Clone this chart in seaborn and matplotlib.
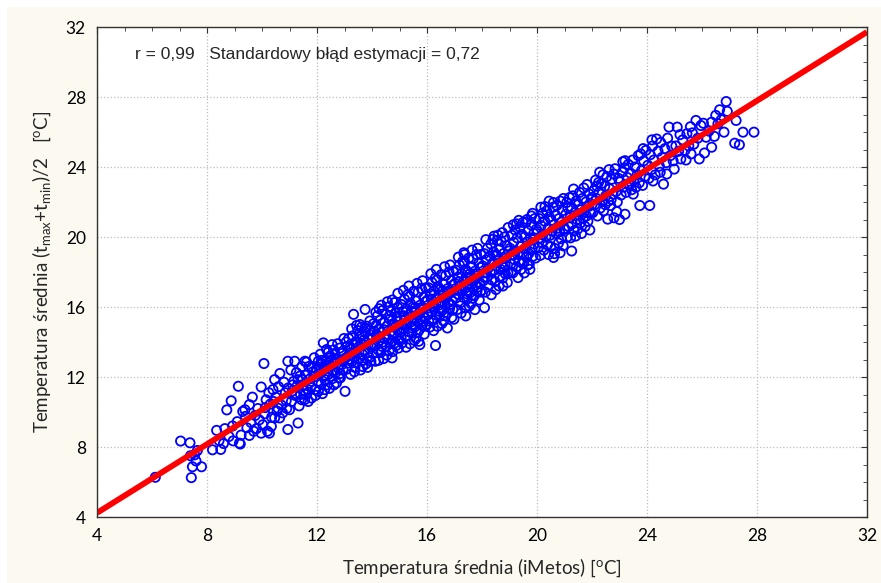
"""
Scatter: mean daily temperature (t_max + t_min)/2 vs iMetos mean, with regression line.
"""
import numpy as np
import pandas as pd
import matplotlib
matplotlib.use('Agg')
import matplotlib.pyplot as plt
import seaborn as sns
from matplotlib.patches import Rectangle
from matplotlib.ticker import MultipleLocator

# --- Data (grouped by iMetos temperature) ---
pts_06_10 = [
    (6.12, 6.27), (7.04, 8.34), (7.38, 8.24), (7.40, 7.50), (7.65, 7.80), (7.60, 7.20),
    (7.47, 6.87), (7.80, 6.87), (7.43, 6.25), (7.55, 7.55),
    (8.20, 7.84), (8.50, 7.86), (8.44, 8.37), (8.72, 10.12), (8.88, 10.64), (8.93, 9.20),
    (8.65, 9.05), (8.80, 8.60), (8.35, 8.95), (8.95, 8.35), (8.60, 8.20),
    (9.14, 11.47), (9.21, 8.17), (9.24, 8.68), (9.54, 8.66), (9.38, 10.13), (9.30, 10.03),
    (9.54, 10.42), (9.18, 8.22), (9.60, 9.40), (9.75, 9.80), (9.45, 9.10), (9.97, 11.43),
    (9.97, 8.79), (9.85, 10.20), (9.65, 10.85), (9.90, 9.55), (9.40, 9.75), (9.80, 9.05),
    (9.10, 9.45), (9.70, 8.90),
]
pts_10_12 = [
    (10.07, 12.77), (10.03, 9.27), (10.27, 8.79), (10.34, 9.18), (10.46, 9.66), (10.64, 9.66),
    (10.58, 10.22), (10.46, 11.85), (10.40, 11.28), (10.20, 8.90), (10.10, 9.90), (10.30, 10.45),
    (10.15, 10.70), (10.50, 10.85), (10.70, 10.40), (10.85, 11.10), (10.94, 12.90), (10.95, 11.37),
    (10.60, 11.45), (10.75, 9.95), (10.90, 10.20), (10.25, 11.10), (10.55, 10.05), (10.80, 11.70),
    (10.35, 9.70), (10.65, 12.20), (10.94, 9.00), (10.88, 10.65), (10.12, 10.25), (10.42, 10.60),
    (11.19, 12.90), (11.31, 11.85), (11.31, 9.37), (11.55, 10.70), (11.44, 10.70), (11.07, 10.60),
    (11.00, 10.13), (11.80, 10.80), (11.56, 12.90), (11.92, 11.28), (11.10, 11.20), (11.15, 11.75),
    (11.25, 12.25), (11.35, 10.35), (11.40, 11.00), (11.50, 11.55), (11.60, 12.10), (11.65, 11.30),
    (11.70, 12.60), (11.75, 11.90), (11.85, 12.30), (11.90, 13.10), (11.05, 12.40), (11.20, 10.95),
    (11.28, 11.50), (11.45, 12.60), (11.58, 11.00), (11.68, 10.60), (11.78, 11.45), (11.88, 12.00),
    (11.95, 10.95), (11.12, 11.55), (11.38, 12.05), (11.52, 11.25), (11.62, 12.85), (11.72, 11.65),
    (11.82, 12.55), (11.48, 11.85), (11.98, 12.45), (11.22, 11.05),
]
pts_12_14 = [
    (12.05, 12.90), (12.23, 13.95), (12.35, 13.57), (12.29, 11.85), (12.28, 11.28), (12.05, 11.18),
    (12.71, 11.66), (12.10, 12.20), (12.15, 11.60), (12.18, 12.75), (12.25, 12.40), (12.32, 12.95),
    (12.38, 11.55), (12.42, 12.15), (12.48, 13.20), (12.52, 12.60), (12.55, 11.90), (12.60, 13.55),
    (12.65, 12.85), (12.68, 12.25), (12.72, 13.05), (12.78, 12.50), (12.82, 13.65), (12.85, 11.95),
    (12.88, 12.95), (12.92, 13.35), (12.95, 12.40), (12.98, 14.20), (12.02, 11.75), (12.12, 13.30),
    (12.20, 11.05), (12.30, 12.10), (12.40, 13.40), (12.45, 11.35), (12.50, 12.95), (12.58, 12.30),
    (12.62, 11.55), (12.70, 12.95), (12.75, 13.90), (12.80, 11.95), (12.90, 12.70), (12.96, 13.00),
    (12.08, 12.55), (12.35, 12.65), (12.55, 13.85), (12.85, 12.20), (12.44, 12.80), (12.66, 13.30),
    (12.16, 12.95),
    (13.02, 11.18), (13.33, 15.58), (13.75, 15.86), (13.05, 13.10), (13.08, 12.45), (13.10, 13.75),
    (13.12, 12.80), (13.15, 14.20), (13.18, 13.35), (13.22, 12.15), (13.25, 13.60), (13.28, 12.90),
    (13.30, 14.35), (13.35, 13.15), (13.38, 12.55), (13.40, 14.00), (13.42, 13.45), (13.45, 12.85),
    (13.48, 14.65), (13.50, 13.70), (13.52, 13.05), (13.55, 14.30), (13.58, 12.40), (13.60, 13.90),
    (13.62, 14.85), (13.65, 13.30), (13.68, 12.95), (13.70, 14.10), (13.72, 13.55), (13.75, 14.55),
    (13.78, 12.75), (13.80, 13.95), (13.82, 14.90), (13.85, 13.40), (13.88, 14.25), (13.90, 13.10),
    (13.92, 15.20), (13.95, 14.40), (13.98, 13.70), (13.06, 14.00), (13.14, 13.00), (13.26, 14.75),
    (13.36, 12.30), (13.46, 13.95), (13.56, 15.00), (13.66, 12.60), (13.76, 14.80), (13.86, 13.85),
    (13.96, 12.90), (13.20, 13.70), (13.44, 14.95), (13.64, 14.45), (13.84, 12.55), (13.94, 14.65),
    (13.32, 13.85),
]
pts_14_16 = [
    (14.73, 13.09), (14.94, 16.78), (14.02, 14.20), (14.04, 13.35), (14.06, 15.05), (14.08, 14.60),
    (14.10, 13.80), (14.12, 12.90), (14.15, 14.95), (14.18, 14.30), (14.20, 15.50), (14.22, 13.55),
    (14.25, 14.75), (14.28, 14.10), (14.30, 15.25), (14.32, 13.40), (14.35, 14.55), (14.38, 15.80),
    (14.40, 14.00), (14.42, 13.05), (14.45, 15.10), (14.48, 14.35), (14.50, 15.60), (14.52, 13.75),
    (14.55, 14.90), (14.58, 14.20), (14.60, 16.00), (14.62, 13.50), (14.65, 15.30), (14.68, 14.60),
    (14.70, 15.75), (14.72, 14.05), (14.75, 13.45), (14.78, 15.05), (14.80, 14.40), (14.82, 16.25),
    (14.85, 14.85), (14.88, 13.80), (14.90, 15.45), (14.92, 14.70), (14.95, 15.95), (14.98, 14.15),
    (14.14, 15.70), (14.24, 12.95), (14.34, 16.10), (14.44, 14.70), (14.54, 13.25), (14.64, 15.50),
    (14.74, 16.40), (14.84, 13.95), (14.94, 15.20), (14.16, 14.40), (14.36, 13.75), (14.56, 16.30),
    (14.76, 14.95), (14.96, 13.65), (14.26, 15.90), (14.46, 14.20), (14.66, 13.90), (14.86, 15.65),
    (15.70, 14.04), (15.02, 15.40), (15.04, 14.55), (15.06, 16.15), (15.08, 15.00), (15.10, 13.95),
    (15.12, 15.75), (15.15, 14.75), (15.18, 16.45), (15.20, 15.25), (15.22, 14.30), (15.25, 15.90),
    (15.28, 15.05), (15.30, 16.70), (15.32, 14.60), (15.35, 15.55), (15.38, 13.90), (15.40, 16.20),
    (15.42, 15.15), (15.45, 14.50), (15.48, 16.00), (15.50, 15.40), (15.52, 16.90), (15.55, 14.85),
    (15.58, 15.70), (15.60, 14.20), (15.62, 16.35), (15.65, 15.20), (15.68, 16.85), (15.70, 15.55),
    (15.72, 14.70), (15.75, 16.10), (15.78, 15.30), (15.80, 17.05), (15.82, 14.95), (15.85, 15.85),
    (15.88, 16.55), (15.90, 14.45), (15.92, 15.40), (15.95, 16.30), (15.98, 15.00), (15.14, 16.95),
    (15.24, 13.70), (15.34, 17.20), (15.44, 15.75), (15.54, 14.10), (15.64, 17.35), (15.74, 13.85),
    (15.84, 17.50), (15.94, 14.90), (15.16, 15.50), (15.36, 16.60), (15.56, 15.95), (15.76, 15.95),
    (15.96, 17.10), (15.26, 14.95), (15.46, 14.80), (15.66, 14.55), (15.86, 15.20), (15.06, 14.25),
]
pts_16_18 = [
    (16.31, 13.80), (16.02, 16.40), (16.04, 15.55), (16.06, 17.10), (16.08, 15.95), (16.10, 14.85),
    (16.12, 16.75), (16.15, 15.70), (16.18, 17.40), (16.20, 16.20), (16.22, 15.25), (16.25, 16.90),
    (16.28, 16.00), (16.30, 17.65), (16.32, 15.55), (16.35, 16.50), (16.38, 14.90), (16.40, 17.15),
    (16.42, 16.10), (16.45, 15.45), (16.48, 17.00), (16.50, 16.35), (16.52, 17.85), (16.55, 15.80),
    (16.58, 16.65), (16.60, 15.20), (16.62, 17.30), (16.65, 16.15), (16.68, 17.80), (16.70, 16.50),
    (16.72, 15.65), (16.75, 17.05), (16.78, 16.25), (16.80, 18.00), (16.82, 15.90), (16.85, 16.80),
    (16.88, 17.50), (16.90, 15.40), (16.92, 16.35), (16.95, 17.25), (16.98, 15.30), (16.14, 17.90),
    (16.24, 14.65), (16.34, 18.15), (16.44, 16.70), (16.54, 15.05), (16.64, 18.30), (16.74, 14.80),
    (16.84, 18.40), (16.94, 15.85), (16.16, 16.45), (16.36, 17.55), (16.56, 16.90), (16.76, 16.90),
    (16.96, 18.05), (16.26, 15.90), (16.46, 15.75), (16.66, 15.50), (16.86, 16.15), (16.06, 15.20),
    (17.41, 15.49), (17.37, 19.00), (17.02, 17.35), (17.04, 16.50), (17.06, 18.10), (17.08, 16.95),
    (17.10, 15.85), (17.12, 17.70), (17.15, 16.70), (17.18, 18.40), (17.20, 17.20), (17.22, 16.25),
    (17.25, 17.90), (17.28, 17.00), (17.30, 18.60), (17.32, 16.55), (17.35, 17.50), (17.38, 15.95),
    (17.40, 18.15), (17.42, 17.10), (17.45, 16.45), (17.48, 18.00), (17.50, 17.35), (17.52, 18.80),
    (17.55, 16.80), (17.58, 17.65), (17.60, 16.20), (17.62, 18.30), (17.65, 17.15), (17.68, 18.75),
    (17.70, 17.50), (17.72, 16.65), (17.75, 18.05), (17.78, 17.25), (17.80, 19.00), (17.82, 16.90),
    (17.85, 17.80), (17.88, 18.50), (17.90, 16.40), (17.92, 17.35), (17.95, 18.25), (17.98, 16.95),
    (17.14, 18.85), (17.24, 15.65), (17.34, 19.10), (17.44, 17.70), (17.54, 16.05), (17.64, 19.25),
    (17.74, 15.85), (17.84, 19.35), (17.94, 16.85), (17.16, 17.45), (17.36, 18.55), (17.56, 17.90),
    (17.76, 17.90), (17.96, 19.00), (17.26, 16.90), (17.46, 16.75), (17.66, 16.50), (17.86, 17.15),
]
pts_18_20 = [
    (18.09, 15.96), (18.09, 17.68), (18.51, 17.00), (18.76, 17.20), (18.58, 20.10), (18.40, 19.87),
    (18.95, 20.54), (18.02, 18.35), (18.05, 17.50), (18.08, 19.05), (18.10, 17.95), (18.12, 16.85),
    (18.15, 18.70), (18.18, 17.70), (18.20, 19.35), (18.22, 18.20), (18.25, 17.25), (18.28, 18.90),
    (18.30, 18.00), (18.32, 19.60), (18.35, 17.55), (18.38, 18.50), (18.42, 19.15), (18.45, 18.10),
    (18.48, 17.45), (18.50, 19.00), (18.52, 18.35), (18.55, 19.80), (18.60, 18.65), (18.62, 17.20),
    (18.65, 19.30), (18.68, 18.15), (18.70, 19.75), (18.72, 18.50), (18.75, 17.65), (18.78, 19.05),
    (18.80, 18.25), (18.82, 20.00), (18.85, 17.90), (18.88, 18.80), (18.90, 19.50), (18.92, 17.40),
    (18.98, 19.20), (18.14, 19.85), (18.34, 16.70), (18.44, 20.05), (18.54, 18.95), (18.64, 17.75),
    (18.74, 20.25), (18.84, 18.40), (18.94, 17.95),
    (19.31, 17.68), (19.74, 18.15), (19.49, 20.83), (19.80, 21.20), (19.02, 19.35), (19.05, 18.45),
    (19.08, 20.10), (19.10, 19.00), (19.12, 17.95), (19.15, 19.70), (19.18, 18.70), (19.20, 20.40),
    (19.22, 19.20), (19.25, 18.30), (19.28, 19.95), (19.30, 19.00), (19.35, 18.60), (19.38, 20.55),
    (19.40, 19.45), (19.42, 18.15), (19.45, 20.15), (19.48, 19.10), (19.52, 18.55), (19.55, 20.00),
    (19.58, 19.35), (19.60, 20.85), (19.62, 18.85), (19.65, 19.70), (19.68, 20.35), (19.70, 19.05),
    (19.72, 18.45), (19.76, 19.95), (19.78, 20.70), (19.82, 19.30), (19.85, 18.90), (19.88, 20.20),
    (19.90, 19.60), (19.92, 21.05), (19.95, 18.80), (19.98, 20.45), (19.14, 20.70), (19.34, 20.95),
    (19.54, 17.95), (19.64, 21.00), (19.84, 21.35), (19.06, 18.00), (19.26, 20.75), (19.46, 18.50),
    (19.66, 18.40), (19.86, 19.85),
]
pts_20_22 = [
    (20.29, 21.74), (20.60, 21.97), (20.60, 18.83), (20.02, 20.30), (20.05, 19.40), (20.08, 21.05),
    (20.10, 19.95), (20.12, 18.95), (20.15, 20.65), (20.18, 19.65), (20.20, 21.35), (20.22, 20.15),
    (20.25, 19.25), (20.28, 20.90), (20.32, 20.00), (20.35, 21.50), (20.38, 19.55), (20.40, 20.50),
    (20.42, 19.00), (20.45, 21.15), (20.48, 20.10), (20.50, 19.45), (20.52, 20.95), (20.55, 20.35),
    (20.58, 21.70), (20.62, 20.70), (20.65, 19.35), (20.68, 21.25), (20.70, 20.20), (20.72, 21.80),
    (20.75, 20.50), (20.78, 19.65), (20.80, 21.05), (20.82, 20.30), (20.85, 22.05), (20.88, 19.90),
    (20.90, 20.85), (20.92, 21.50), (20.95, 19.50), (20.98, 20.45), (20.14, 21.70), (20.44, 22.05),
    (20.64, 19.05), (20.84, 19.10), (20.96, 22.20),
    (21.08, 21.97), (21.26, 19.20), (21.33, 22.74), (21.02, 20.45), (21.05, 21.30), (21.10, 20.00),
    (21.12, 21.65), (21.15, 20.60), (21.18, 22.25), (21.20, 21.10), (21.22, 19.95), (21.25, 21.70),
    (21.28, 20.75), (21.30, 22.35), (21.35, 20.35), (21.38, 21.40), (21.40, 20.05), (21.42, 22.05),
    (21.45, 21.00), (21.48, 20.45), (21.50, 21.85), (21.52, 21.25), (21.55, 22.55), (21.58, 20.80),
    (21.60, 21.55), (21.62, 20.20), (21.65, 22.20), (21.68, 21.05), (21.70, 22.80), (21.72, 21.45),
    (21.75, 20.60), (21.78, 22.00), (21.80, 21.20), (21.82, 23.00), (21.85, 20.90), (21.88, 21.75),
    (21.90, 22.45), (21.92, 20.40), (21.95, 21.35), (21.98, 22.15),
]
pts_22_24 = [
    (22.00, 22.26), (22.24, 23.12), (22.28, 23.70), (22.79, 23.60), (22.80, 21.10), (22.57, 21.02),
    (22.03, 21.40), (22.06, 22.65), (22.10, 21.85), (22.13, 23.25), (22.16, 22.20), (22.20, 21.20),
    (22.26, 22.55), (22.30, 21.65), (22.34, 23.05), (22.38, 22.10), (22.42, 21.50), (22.46, 22.90),
    (22.50, 22.35), (22.54, 23.45), (22.60, 22.05), (22.64, 22.75), (22.68, 21.80), (22.72, 23.30),
    (22.76, 22.45), (22.84, 23.90), (22.88, 22.60), (22.92, 22.00), (22.96, 23.35), (22.48, 21.85),
    (22.62, 23.85), (22.90, 21.45), (22.18, 22.90), (22.40, 23.55), (22.70, 22.15),
    (23.00, 21.00), (23.20, 21.30), (23.20, 24.36), (23.74, 21.80), (23.77, 24.75), (23.02, 23.15),
    (23.06, 22.40), (23.10, 23.70), (23.14, 22.85), (23.18, 23.95), (23.24, 22.55), (23.28, 23.40),
    (23.32, 24.15), (23.36, 22.95), (23.40, 23.65), (23.44, 22.70), (23.48, 24.40), (23.52, 23.25),
    (23.56, 24.00), (23.60, 22.85), (23.64, 23.55), (23.68, 24.65), (23.72, 23.10), (23.80, 23.80),
    (23.84, 22.95), (23.88, 24.35), (23.92, 23.45), (23.96, 24.95), (23.12, 24.30), (23.50, 22.45),
    (23.86, 25.05), (23.34, 23.05),
]
pts_24_28 = [
    (24.10, 21.80), (24.35, 25.60), (24.60, 23.02), (24.80, 26.28), (24.99, 23.88), (24.03, 24.10),
    (24.07, 23.35), (24.12, 24.70), (24.16, 23.85), (24.20, 25.20), (24.25, 24.40), (24.30, 23.55),
    (24.40, 24.90), (24.45, 24.05), (24.50, 25.40), (24.55, 24.55), (24.65, 25.05), (24.70, 24.25),
    (24.75, 25.65), (24.85, 24.65), (24.90, 25.20), (24.95, 24.35), (24.22, 23.20), (24.48, 23.70),
    (24.72, 23.60), (24.18, 25.55),
    (25.10, 26.28), (25.23, 24.46), (25.78, 26.66), (25.96, 26.37), (25.90, 24.46), (25.05, 25.20),
    (25.15, 24.90), (25.30, 25.55), (25.38, 24.95), (25.45, 25.90), (25.52, 25.20), (25.60, 24.75),
    (25.65, 25.95), (25.70, 25.30), (25.85, 25.65), (25.42, 24.40), (25.58, 26.30), (25.20, 25.85),
    (26.09, 24.80), (26.35, 26.56), (26.58, 26.47), (26.80, 25.99), (26.35, 25.13), (26.64, 27.27),
    (26.88, 27.74), (26.92, 27.18), (26.15, 25.70), (26.25, 26.05), (26.45, 25.75), (26.50, 26.95),
    (26.05, 26.50), (26.70, 26.70),
    (27.24, 26.66), (27.49, 25.99), (27.89, 25.99), (27.19, 25.36), (27.36, 25.27),
]

pts = pts_06_10 + pts_10_12 + pts_12_14 + pts_14_16 + pts_16_18 + pts_18_20 + pts_20_22 + pts_22_24 + pts_24_28
df = pd.DataFrame(pts, columns=['imetos', 'tmean'])

annot_text = 'r = 0,99   Standardowy błąd estymacji = 0,72'
x_label = r'Temperatura średnia (iMetos) [$^{\mathrm{o}}$C]'
y_label = r'Temperatura średnia (t$_{\mathrm{max}}$+t$_{\mathrm{min}}$)/2   [$^{\mathrm{o}}$C]'

# --- Style ---
sns.set_style('white')
plt.rcParams['font.family'] = ['Lato', 'DejaVu Sans']
plt.rcParams['mathtext.fontset'] = 'custom'
plt.rcParams['mathtext.rm'] = 'Lato'
plt.rcParams['mathtext.it'] = 'Lato:italic'
plt.rcParams['mathtext.bf'] = 'Lato:bold'

W, H = 881, 583
fig = plt.figure(figsize=(W / 100, H / 100), dpi=100, facecolor='white')
fig.patches.append(Rectangle((7 / W, 0), 1, 1 - 7 / H, transform=fig.transFigure,
                             facecolor='#FCFAF0', edgecolor='none', zorder=-10))
ax = fig.add_axes([97 / W, 1 - 517 / H, 770 / W, 490 / H])
ax.set_facecolor('white')
ax.set_xlim(4, 32)
ax.set_ylim(4, 32)

sns.regplot(data=df, x='imetos', y='tmean', ax=ax, ci=None, truncate=False,
            color='#0000FF',
            scatter_kws=dict(s=44, facecolors='none', edgecolors='#0000FF',
                             linewidths=1.3, alpha=1),
            line_kws=dict(color='#FF0000', lw=4.2, solid_capstyle='butt'))

ax.set_xlim(4, 32)
ax.set_ylim(4, 32)
ax.xaxis.set_major_locator(MultipleLocator(4))
ax.yaxis.set_major_locator(MultipleLocator(4))
ax.xaxis.set_minor_locator(MultipleLocator(1))
ax.yaxis.set_minor_locator(MultipleLocator(1))
ax.grid(True, which='major', ls=':', color='#BDBDBD', lw=0.9)
ax.set_axisbelow(True)
ax.tick_params(which='both', direction='in', top=True, right=True,
               colors='#333333', labelcolor='black', labelsize=12.5)
ax.tick_params(which='major', length=4, pad=8)
ax.tick_params(which='minor', length=3)
for s in ax.spines.values():
    s.set_color('#333333')
    s.set_linewidth(1.0)

ax.set_xlabel(x_label, fontsize=13.5, labelpad=9)
ax.set_ylabel(y_label, fontsize=13.5, labelpad=9)
ax.text(0.049, 0.943, annot_text, transform=ax.transAxes, va='center', ha='left',
        fontsize=12.5, family=['Liberation Sans', 'DejaVu Sans'])

plt.savefig('out.png', dpi=100)
plt.close()
